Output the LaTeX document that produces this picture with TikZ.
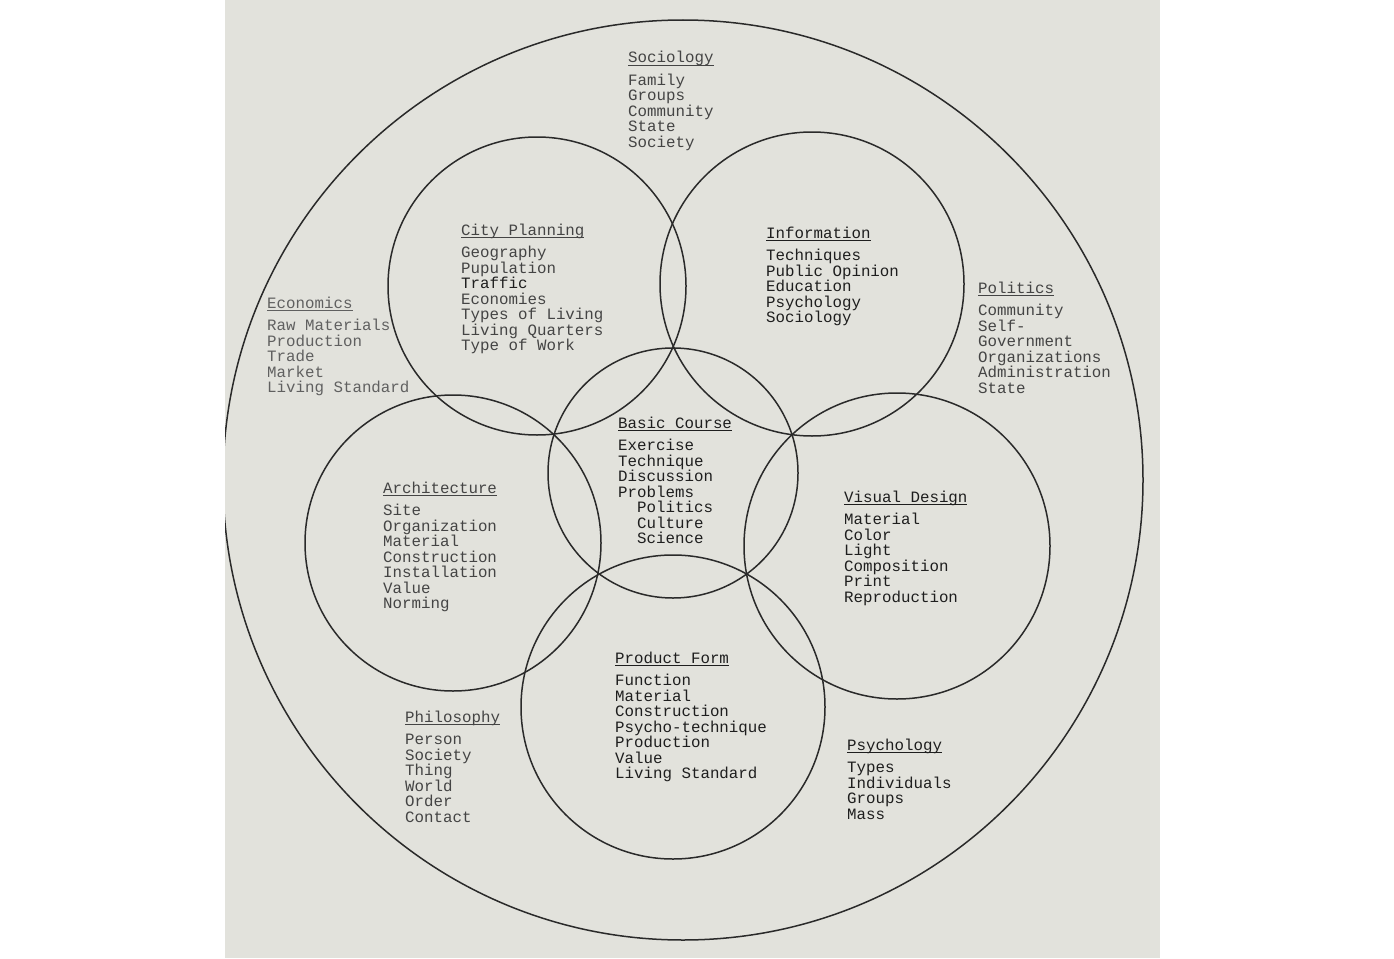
\documentclass[tikz,border=0pt]{standalone}
\usepackage{fontspec}
\newfontfamily\typewriter{Liberation Mono}
\definecolor{paper}{HTML}{E2E2DC}
\definecolor{pen}{HTML}{2A2A2A}
\definecolor{inkD}{HTML}{1E1E1E}
\definecolor{inkM}{HTML}{444444}
\definecolor{inkL}{HTML}{606060}

% underlined heading, typed style
\newcommand\uhead[1]{\setbox0\hbox{#1}\rlap{\rule[-3pt]{\wd0}{1pt}}\box0}
% heading + list, baseline = heading baseline
\newcommand\topicbox[2]{\vtop{\let\\\cr\baselineskip=15.5pt\lineskiplimit=-\maxdimen\lineskip=0pt
  \halign{##\hfil\cr\uhead{#1}\cr\noalign{\vskip7pt}#2\crcr}}}

\tikzset{
  ring/.style={circle, draw=pen, line width=1.5pt, inner sep=0pt},
  topic/.style={anchor=base west, inner sep=0pt, text=inkM,
    font=\typewriter\fontsize{15.8}{15.5}\selectfont},
}

\begin{document}
\begin{tikzpicture}[x=1pt, y=-1pt]
  \useasboundingbox (0,0) rectangle (1394,958);
  \fill[white] (0,0) rectangle (1394,958);
  \fill[paper] (225,0) rectangle (1160,958);

  % circles
  \begin{scope}
    \clip (225,0) rectangle (1160,958);
    \node[ring, minimum size=920pt] (world) at (683,480) {};
  \end{scope}
  \node[ring, minimum size=250pt] (basic)   at (673,473) {};
  \node[ring, minimum size=298pt] (city)    at (537,286) {};
  \node[ring, minimum size=304pt] (info)    at (812,284) {};
  \node[ring, minimum size=296pt] (arch)    at (453,543) {};
  \node[ring, minimum size=306pt] (visual)  at (897,546) {};
  \node[ring, minimum size=304pt] (product) at (673,707) {};

  % outer fields
  \node[topic]            (sociology)  at (628,63)
    {\topicbox{Sociology}{Family\\Groups\\Community\\State\\Society}};
  \node[topic, text=inkL] (economics)  at (267,308)
    {\topicbox{Economics}{Raw Materials\\Production\\Trade\\Market\\Living Standard}};
  \node[topic]            (politics)   at (978,293)
    {\topicbox{Politics}{Community\\Self-\\Government\\Organizations\\Administration\\State}};
  \node[topic]            (philosophy) at (405,722)
    {\topicbox{Philosophy}{Person\\Society\\Thing\\World\\Order\\Contact}};
  \node[topic, text=inkD] (psychology) at (847,750)
    {\topicbox{Psychology}{Types\\Individuals\\Groups\\Mass}};

  % workshops
  \node[topic]            (cityT)    at (461,235)
    {\topicbox{City Planning}{Geography\\Pupulation\\\textcolor{inkD}{Traffic}\\Economies\\Types of Living\\Living Quarters\\Type of Work}};
  \node[topic, text=inkD] (infoT)    at (766,238)
    {\topicbox{Information}{Techniques\\Public Opinion\\Education\\Psychology\\Sociology}};
  \node[topic, text=inkD] (basicT)   at (618,428)
    {\topicbox{Basic Course}{Exercise\\Technique\\Discussion\\Problems\\\phantom{xx}Politics\\\phantom{xx}Culture\\\phantom{xx}Science}};
  \node[topic]            (archT)    at (383,493)
    {\topicbox{Architecture}{Site\\Organization\\Material\\Construction\\Installation\\Value\\Norming}};
  \node[topic, text=inkD] (visualT)  at (844,502)
    {\topicbox{Visual Design}{Material\\Color\\Light\\Composition\\Print\\Reproduction}};
  \node[topic, text=inkD] (productT) at (615,663)
    {\topicbox{Product Form}{Function\\Material\\Construction\\Psycho-technique\\Production\\Value\\Living Standard}};
\end{tikzpicture}
\end{document}
